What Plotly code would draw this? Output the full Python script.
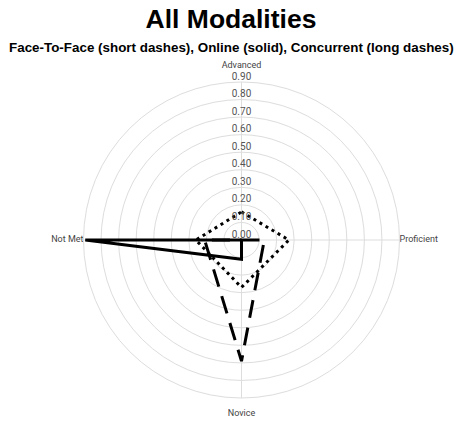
import plotly.graph_objects as go

categories = ["Advanced", "Proficient", "Novice", "Not Met"]
face_to_face = [0.16, 0.27, 0.27, 0.26]
online = [0.0, 0.0, 0.11, 0.89]
concurrent = [0.0, 0.13, 0.69, 0.21]
radial_ticks = [0.0, 0.1, 0.2, 0.3, 0.4, 0.5, 0.6, 0.7, 0.8, 0.9]
radial_tick_labels = ["%.2f" % v for v in radial_ticks]

R_MAX = 0.9
label_positions = ["top center", "middle right", "bottom center", "middle left"]
# spacer lines push the top / bottom labels away from the outer ring
label_texts = ["Advanced<br>&nbsp;", "Proficient", "&nbsp;<br>Novice", "Not Met"]

def closed(vals):
    return list(vals) + [vals[0]]

theta_closed = categories + [categories[0]]

fig = go.Figure()
fig.add_trace(go.Scatterpolar(
    r=closed(face_to_face), theta=theta_closed, mode="lines",
    line=dict(color="black", width=3, dash="3px,4px"), name="Face-To-Face"))
fig.add_trace(go.Scatterpolar(
    r=closed(online), theta=theta_closed, mode="lines",
    line=dict(color="black", width=3), name="Online"))
fig.add_trace(go.Scatterpolar(
    r=closed(concurrent), theta=theta_closed, mode="lines",
    line=dict(color="black", width=3, dash="18px,10px"), name="Concurrent"))
# radial tick labels, centred on the vertical axis
fig.add_trace(go.Scatterpolar(
    r=radial_ticks, theta=[categories[0]] * len(radial_ticks), mode="text",
    text=radial_tick_labels, textposition="top center",
    textfont=dict(family="Roboto, Arial, sans-serif", size=10, color="#555"),
    hoverinfo="skip", showlegend=False, cliponaxis=False))
# category labels
fig.add_trace(go.Scatterpolar(
    r=[R_MAX] * len(categories), theta=categories, mode="text",
    text=label_texts, textposition=label_positions,
    textfont=dict(family="Roboto, Arial, sans-serif", size=9, color="#444"),
    hoverinfo="skip", showlegend=False, cliponaxis=False))

fig.update_layout(
    width=462, height=426,
    margin=dict(l=0, r=0, t=0, b=0),
    paper_bgcolor="white", plot_bgcolor="white",
    showlegend=False,
    title=dict(text="<b>All Modalities</b>", x=0.5, xanchor="center",
               y=1 - 19 / 426, yanchor="middle",
               font=dict(family="Liberation Sans, Arial, sans-serif", size=26.5, color="black")),
    annotations=[dict(
        text="<b>Face-To-Face (short dashes), Online (solid), Concurrent (long dashes)</b>",
        xref="paper", yref="paper", x=0.5, y=1 - 48 / 426, xanchor="center", yanchor="middle",
        showarrow=False,
        font=dict(family="Liberation Sans, Arial, sans-serif", size=13.4, color="black"))],
    polar=dict(
        domain=dict(x=[83.5 / 462, 399.5 / 462], y=[28 / 426, 344 / 426]),
        bgcolor="white",
        radialaxis=dict(range=[0, R_MAX], tickvals=radial_ticks, showticklabels=False,
                        ticks="", showline=False, gridcolor="#dddddd", gridwidth=1,
                        angle=90),
        angularaxis=dict(direction="clockwise", rotation=90, categoryorder="array",
                         categoryarray=categories, showline=True, linecolor="#dddddd",
                         gridcolor="#dddddd", ticks="", showticklabels=False),
    ),
)

fig.write_html("out.html", config={"displayModeBar": False},
               post_script="document.body.style.margin='0';")
